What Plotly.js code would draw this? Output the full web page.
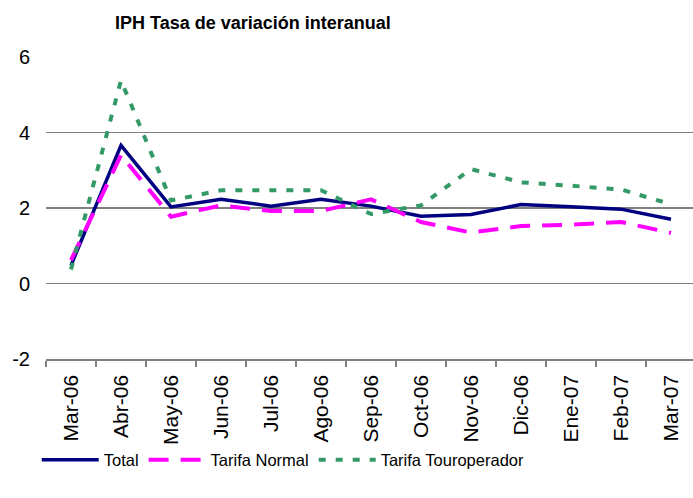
<!DOCTYPE html>
<html>
<head>
<meta charset="utf-8">
<script src="https://cdn.plot.ly/plotly-3.0.1.min.js"></script>
<style>html,body{margin:0;padding:0;background:#fff;}#chart{width:693px;height:498px;}</style>
</head>
<body>
<div id="chart"></div>
<script>
const categories = ["Mar-06","Abr-06","May-06","Jun-06","Jul-06","Ago-06","Sep-06","Oct-06","Nov-06","Dic-06","Ene-07","Feb-07","Mar-07"];
const total = [0.48, 3.66, 2.03, 2.23, 2.05, 2.23, 2.05, 1.78, 1.83, 2.09, 2.03, 1.97, 1.70];
const tarifaNormal = [0.62, 3.40, 1.77, 2.07, 1.92, 1.92, 2.23, 1.63, 1.35, 1.52, 1.56, 1.63, 1.34];
const tarifaTouroperador = [0.37, 5.38, 2.20, 2.47, 2.47, 2.47, 1.84, 2.07, 3.03, 2.68, 2.59, 2.49, 2.10];
const yTicks = [-2, 0, 2, 4, 6];

const FONT = "Liberation Sans, Arial, sans-serif";

const traces = [
  {x: categories, y: total, name: "Total", type: "scatter", mode: "lines",
   line: {color: "#000080", width: 3.5}},
  {x: categories, y: tarifaNormal, name: "Tarifa Normal", type: "scatter", mode: "lines",
   line: {color: "#FF00FF", width: 4, dash: "20px,12px"}},
  {x: categories, y: tarifaTouroperador, name: "Tarifa Touroperador", type: "scatter", mode: "lines",
   line: {color: "#339966", width: 4, dash: "7px,10px"}}
];

const layout = {
  width: 693, height: 498,
  margin: {l: 46, r: 0, t: 57, b: 139},
  paper_bgcolor: "#fff", plot_bgcolor: "#fff",
  font: {family: FONT, color: "#000"},
  title: {text: "<b>IPH Tasa de variación interanual</b>", font: {size: 18, family: FONT},
          xref: "container", yref: "container", x: 0.365, xanchor: "center", y: 0.954, yanchor: "middle"},
  xaxis: {type: "category", range: [-0.5, 12.44], tickangle: -90, tickfont: {size: 21},
          ticks: "outside", tickson: "boundaries", ticklen: 6, tickcolor: "#808080", tickwidth: 1.5,
          showline: true, linecolor: "#808080", linewidth: 1.5, showgrid: false, ticklabelstandoff: 6,
          fixedrange: true},
  yaxis: {range: [-2, 6], tickvals: yTicks, ticktext: yTicks.map(String), tickfont: {size: 20},
          showgrid: true, gridcolor: "#808080", gridwidth: 1.5, zeroline: false, showline: false,
          ticks: "", ticklabelstandoff: 15, fixedrange: true},
  showlegend: true,
  legend: {orientation: "h", xref: "container", yref: "container", x: 0.053, xanchor: "left",
           y: 1 - 460/498, yanchor: "middle", font: {size: 16.5, family: FONT}, itemwidth: 57,
           bgcolor: "rgba(0,0,0,0)"}
};

Plotly.newPlot("chart", traces, layout, {displayModeBar: false, staticPlot: true});
</script>
</body>
</html>
